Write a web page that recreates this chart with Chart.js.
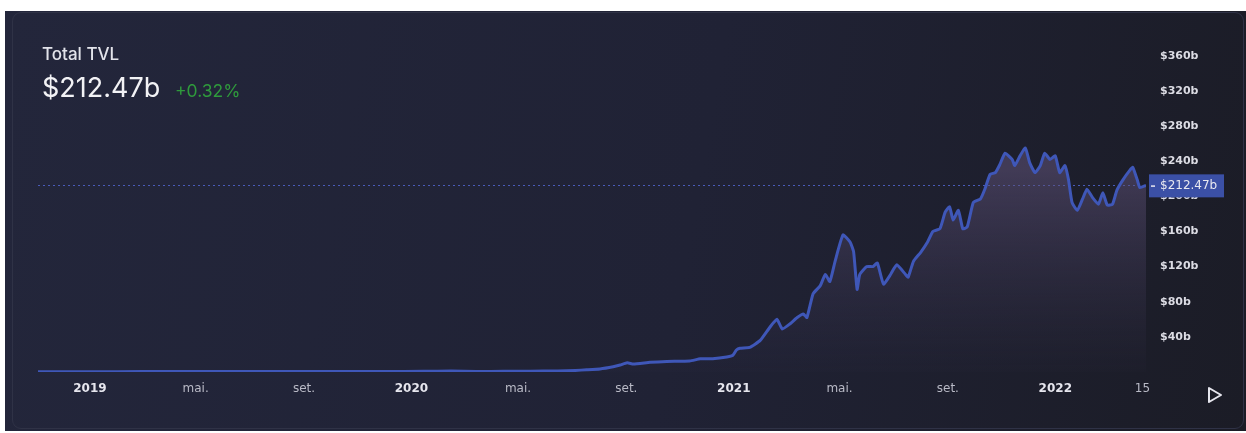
<!DOCTYPE html>
<html>
<head>
<meta charset="utf-8">
<script src="https://cdn.jsdelivr.net/npm/chart.js@4"></script>
<style>
  html, body { margin: 0; padding: 0; background: #fff; }
  body { width: 1246px; height: 433px; position: relative; overflow: hidden; font-family: Inter, "Noto Sans", sans-serif; }
  .bg { position: absolute; left: 5px; top: 11px; width: 1241px; height: 420px;
        background: linear-gradient(100deg, #23263b 0%, #202235 55%, #1b1c26 100%); }
  .card { position: absolute; left: 12px; top: 12px; width: 1232px; height: 417px; box-sizing: border-box;
          border: 1px solid #2f3246; border-radius: 9px; }
  canvas { position: absolute; left: 0; top: 0; }
  .title { position: absolute; left: 42px; top: 44px; color: #e2e3ea; font-size: 17px; font-weight: 500; }
  .value { position: absolute; left: 42px; top: 71px; color: #f2f2f5; font-size: 27px; font-weight: 400; }
  .change { position: absolute; left: 175px; top: 80px; color: #2f9a3c; font-size: 17.5px; }
  .play { position: absolute; left: 1206px; top: 386px; }
</style>
</head>
<body>
<div class="bg"></div>
<div class="card"></div>
<canvas id="tvlChart" width="1246" height="433"></canvas>
<div class="title">Total TVL</div>
<div class="value">$212.47b</div>
<div class="change">+0.32%</div>
<svg class="play" width="18" height="18" viewBox="0 0 18 18"><path d="M3 2 L15 9 L3 16 Z" fill="none" stroke="#e6e6ee" stroke-width="2" stroke-linejoin="round"/></svg>

<script>
// data (billions USD)
const dates = [
  '2018-11-03','2018-12-15','2019-02-01','2019-04-01','2019-06-01','2019-08-01','2019-10-01','2019-12-01',
  '2020-01-15','2020-02-15','2020-03-15','2020-04-15','2020-05-15','2020-06-15','2020-07-05','2020-07-18',
  '2020-08-02','2020-08-17','2020-08-25','2020-09-02','2020-09-09','2020-09-28','2020-10-17','2020-11-12',
  '2020-11-24','2020-12-08','2020-12-24','2020-12-31','2021-01-04','2021-01-08','2021-01-19','2021-01-31',
  '2021-02-11','2021-02-19','2021-02-25','2021-03-06','2021-03-14','2021-03-21','2021-03-25','2021-04-01',
  '2021-04-09','2021-04-15','2021-04-20','2021-04-26','2021-05-05','2021-05-13','2021-05-17','2021-05-21',
  '2021-05-24','2021-06-01','2021-06-08','2021-06-13','2021-06-20','2021-06-28','2021-07-05','2021-07-15',
  '2021-07-18','2021-07-24','2021-08-01','2021-08-09','2021-08-15','2021-08-23','2021-08-29','2021-09-03',
  '2021-09-07','2021-09-13','2021-09-18','2021-09-23','2021-09-30','2021-10-08','2021-10-13','2021-10-19',
  '2021-10-25','2021-10-30','2021-11-05','2021-11-13','2021-11-16','2021-11-22','2021-11-28','2021-12-03',
  '2021-12-09','2021-12-15','2021-12-20','2021-12-26','2022-01-01','2022-01-06','2022-01-12','2022-01-16',
  '2022-01-20','2022-01-26','2022-02-01','2022-02-06','2022-02-12','2022-02-19','2022-02-24','2022-03-01',
  '2022-03-07','2022-03-12','2022-03-19','2022-03-27','2022-03-30','2022-04-04','2022-04-07','2022-04-14'
];
const tvl = [
  0.4, 0.3, 0.4, 0.5, 0.6, 0.6, 0.6, 0.6,
  0.8, 1.0, 0.6, 0.8, 0.9, 1.2, 1.8, 2.5,
  3.5, 6, 8, 10.5, 9, 11, 12, 12.5,
  15, 15, 17, 19, 25, 27, 28, 36,
  51, 60, 49, 55, 62, 66, 62, 89,
  98, 111, 103, 126, 156, 148, 137, 94,
  111, 120, 120, 124, 100, 111, 122, 111,
  108, 126, 136, 148, 160, 163, 182, 188,
  173, 184, 163, 165, 193, 197, 208, 225,
  227, 236, 249, 242, 235, 246, 255, 238,
  227, 235, 249, 242, 246, 227, 235, 219,
  193, 184, 197, 208, 199, 191, 204, 190,
  191, 207, 219, 230, 233, 219, 210, 212.47
];
const tickDates = ['2019-01-01','2019-05-01','2019-09-01','2020-01-01','2020-05-01','2020-09-01',
  '2021-01-01','2021-05-01','2021-09-01','2022-01-01','2022-04-10'];
const tickLabels = ['2019','mai.','set.','2020','mai.','set.','2021','mai.','set.','2022','15'];
const yearTicks = ['2019','2020','2021','2022'];
const currentValue = 212.47;

const dayZero = Date.parse('2019-01-01');
const toDay = s => (Date.parse(s) - dayZero) / 86400000;

const points = dates.map((d, i) => ({ x: toDay(d), y: tvl[i] }));

const priceLine = {
  id: 'priceLine',
  beforeDatasetsDraw(chart) {
    const { ctx, chartArea, scales } = chart;
    const y = Math.round(scales.y.getPixelForValue(currentValue)) + 0.5;
    ctx.save();
    ctx.strokeStyle = 'rgba(78,98,200,0.9)';
    ctx.lineWidth = 1;
    ctx.setLineDash([2, 3]);
    ctx.beginPath();
    ctx.moveTo(chartArea.left, y);
    ctx.lineTo(chartArea.right, y);
    ctx.stroke();
    ctx.restore();
  },
  afterDraw(chart) {
    const { ctx, chartArea, scales } = chart;
    const y = scales.y.getPixelForValue(currentValue);
    const x = chartArea.right + 3;
    ctx.save();
    ctx.fillStyle = '#3b50a6';
    ctx.fillRect(x, y - 11, 75, 23);
    ctx.fillStyle = '#e8e8f0';
    ctx.fillRect(x + 2, y, 4, 1.5);
    ctx.font = '12px "DejaVu Sans", sans-serif';
    ctx.textBaseline = 'middle';
    ctx.fillText('$' + currentValue.toFixed(2) + 'b', x + 11, y + 1);
    ctx.restore();
  }
};

new Chart(document.getElementById('tvlChart'), {
  type: 'line',
  data: {
    datasets: [{
      data: points,
      borderColor: '#3f57b8',
      borderWidth: 3,
      pointRadius: 0,
      tension: 0.15,
      fill: 'origin',
      backgroundColor: (c) => {
        const area = c.chart.chartArea;
        if (!area) return 'rgba(80,70,110,0.3)';
        const g = c.chart.ctx.createLinearGradient(0, area.top + 150, 0, area.bottom);
        g.addColorStop(0, 'rgba(95,82,120,0.55)');
        g.addColorStop(1, 'rgba(60,55,85,0.05)');
        return g;
      }
    }]
  },
  options: {
    responsive: false,
    animation: false,
    layout: { padding: { left: 38, top: 16, right: 0, bottom: 0 } },
    plugins: { legend: { display: false }, tooltip: { enabled: false } },
    scales: {
      x: {
        type: 'linear',
        min: toDay('2018-11-03'),
        max: toDay('2022-04-14'),
        grid: { display: false, drawTicks: false },
        border: { display: false },
        afterBuildTicks: (s) => { s.ticks = tickDates.map(d => ({ value: toDay(d) })); },
        afterFit: (s) => { s.height = 61; },
        ticks: {
          autoSkip: false,
          maxRotation: 0,
          padding: 10,
          callback: (v, i) => tickLabels[i],
          color: (c) => yearTicks.includes(tickLabels[c.index]) ? '#e6e6ee' : '#b9bac6',
          font: (c) => ({ family: '"DejaVu Sans", sans-serif', size: 12,
            weight: yearTicks.includes(tickLabels[c.index]) ? 'bold' : 'normal' })
        }
      },
      y: {
        position: 'right',
        min: 0,
        max: 400,
        grid: { display: false, drawTicks: false },
        border: { display: false },
        afterFit: (s) => { s.width = 100; },
        ticks: {
          stepSize: 40,
          padding: 14,
          color: '#dcdce4',
          font: { family: '"DejaVu Sans", sans-serif', size: 11, weight: 'bold' },
          callback: (v) => (v === 0 || v === 400) ? '' : '$' + v + 'b'
        }
      }
    }
  },
  plugins: [priceLine]
});
</script>
</body>
</html>
